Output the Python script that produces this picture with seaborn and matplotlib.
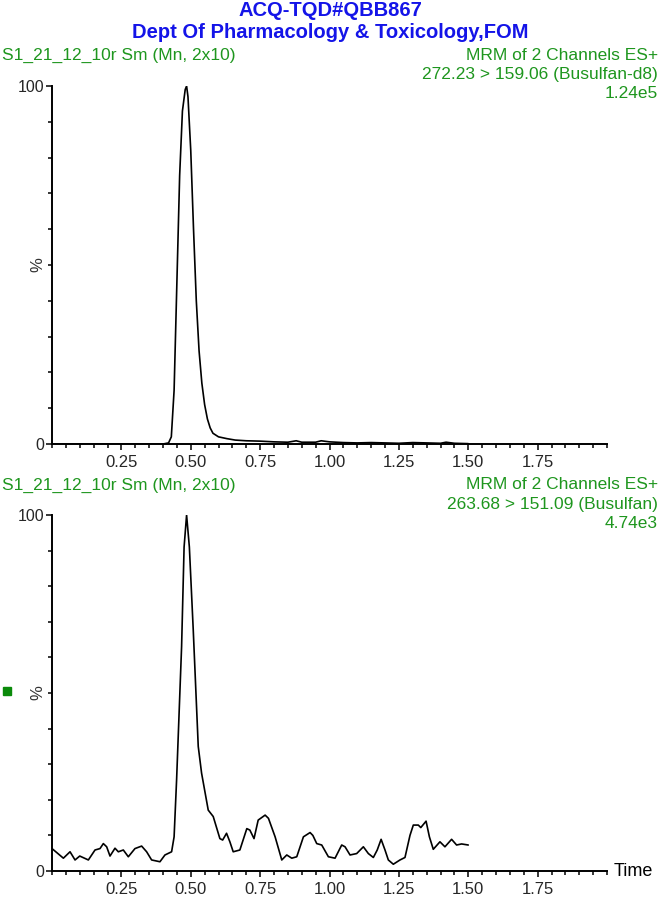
import numpy as np
import pandas as pd
import seaborn as sns
import matplotlib.pyplot as plt
from matplotlib.ticker import MultipleLocator

# Busulfan-d8 channel (272.23 > 159.06), % of 1.24e5
time_d8 = [0.00, 0.40, 0.42, 0.43, 0.44, 0.45, 0.46, 0.47, 0.48, 0.485, 0.49,
           0.50, 0.51, 0.52, 0.53, 0.54, 0.55, 0.56, 0.57, 0.58, 0.60, 0.63,
           0.66, 0.70, 0.75, 0.80, 0.85, 0.88, 0.90, 0.95, 0.97, 1.00, 1.05,
           1.10, 1.15, 1.20, 1.25, 1.30, 1.35, 1.40, 1.42, 1.45, 1.50]
pct_d8 = [0.0, 0.0, 0.3, 2.0, 15.0, 45.0, 75.0, 93.0, 99.0, 100.0, 97.0,
          82.0, 60.0, 40.0, 26.0, 17.0, 11.0, 7.0, 4.5, 3.0, 2.0, 1.5,
          1.1, 0.9, 0.8, 0.6, 0.5, 0.9, 0.5, 0.5, 0.9, 0.6, 0.4,
          0.3, 0.4, 0.3, 0.2, 0.4, 0.3, 0.2, 0.5, 0.2, 0.1]

# Busulfan channel (263.68 > 151.09), % of 4.74e3
time_bu = [0.000, 0.041, 0.065, 0.083, 0.100, 0.131, 0.155, 0.173, 0.185, 0.197,
           0.209, 0.227, 0.239, 0.257, 0.275, 0.299, 0.323, 0.341, 0.359, 0.389,
           0.407, 0.431, 0.440, 0.449, 0.467, 0.476, 0.485, 0.495, 0.509, 0.527,
           0.539, 0.563, 0.581, 0.605, 0.615, 0.629, 0.641, 0.653, 0.677, 0.702,
           0.713, 0.728, 0.743, 0.768, 0.780, 0.804, 0.828, 0.846, 0.864, 0.882,
           0.906, 0.930, 0.940, 0.954, 0.972, 0.996, 1.020, 1.044, 1.056, 1.074,
           1.098, 1.122, 1.140, 1.158, 1.172, 1.186, 1.200, 1.212, 1.230, 1.254,
           1.272, 1.290, 1.302, 1.320, 1.329, 1.348, 1.360, 1.374, 1.398, 1.416,
           1.440, 1.458, 1.476, 1.500]
pct_bu = [6.3, 3.6, 5.4, 3.1, 4.2, 3.1, 5.9, 6.3, 7.7, 6.8,
          4.2, 6.4, 5.4, 5.9, 4.0, 6.3, 7.0, 5.4, 3.1, 2.6,
          4.5, 5.4, 9.6, 25.6, 63.0, 91.0, 100.0, 91.0, 67.7, 35.0,
          27.5, 17.1, 15.3, 9.1, 8.7, 10.6, 8.2, 5.4, 5.9, 11.9,
          11.5, 9.1, 14.3, 15.7, 14.8, 9.6, 3.1, 4.5, 3.6, 4.0,
          9.6, 10.8, 10.0, 7.7, 7.3, 4.0, 3.6, 7.3, 6.8, 4.5,
          4.9, 6.8, 4.9, 3.8, 5.9, 8.9, 5.9, 3.1, 1.9, 3.1,
          3.8, 10.0, 12.9, 12.9, 12.2, 14.0, 9.6, 6.1, 8.2, 6.8,
          8.9, 7.3, 7.6, 7.3]

sample = "S1_21_12_10r Sm (Mn, 2x10)"
channel_lines = [["MRM of 2 Channels ES+", "272.23 > 159.06 (Busulfan-d8)", "1.24e5"],
                 ["MRM of 2 Channels ES+", "263.68 > 151.09 (Busulfan)", "4.74e3"]]
x_labels = ["0.25", "0.50", "0.75", "1.00", "1.25", "1.50", "1.75"]

GREEN = "#1e961e"
BLUE = "#1414e8"

sns.set_style("ticks")
plt.rcParams["font.family"] = ["Liberation Sans", "DejaVu Sans"]

W, H = 661, 898
fig = plt.figure(figsize=(W / 100, H / 100), dpi=100)

def fx(px):
    return px / W

def fy(py):
    return 1 - py / H

# axes placed in pixel coords of the reference
ax_top = fig.add_axes([fx(52), fy(444), fx(607 - 52), (444 - 86) / H])
ax_bot = fig.add_axes([fx(52), fy(871), fx(607 - 52), (871 - 515) / H])

traces = [pd.DataFrame({"t": time_d8, "pct": pct_d8}),
          pd.DataFrame({"t": time_bu, "pct": pct_bu})]

for ax, df in zip([ax_top, ax_bot], traces):
    sns.lineplot(data=df, x="t", y="pct", ax=ax, color="black", lw=1.2, sort=False)
    ax.set_xlim(0, 2.0)
    ax.set_ylim(0, 100)
    sns.despine(ax=ax)
    for s in ["left", "bottom"]:
        ax.spines[s].set_linewidth(1.4)
        ax.spines[s].set_color("black")
    ax.set_xlabel("")
    ax.set_ylabel("%", fontsize=12, color="#333333")
    ax.yaxis.set_label_coords(-0.0126, 0.5)
    ax.set_yticks([0, 100])
    ax.set_yticklabels(["0", "100"], fontsize=11.5)
    ax.yaxis.set_minor_locator(MultipleLocator(10))
    ax.set_xticks([0.25, 0.5, 0.75, 1.0, 1.25, 1.5, 1.75])
    ax.set_xticklabels(x_labels, fontsize=12)
    ax.xaxis.set_minor_locator(MultipleLocator(0.05))
    ax.tick_params(axis="both", which="major", length=4.5, width=1.1, color="black", pad=1)
    ax.tick_params(axis="both", which="minor", length=3.2, width=1.1, color="black")
    ax.tick_params(axis="x", which="major", pad=3.5)
    ax.set_facecolor("white")

# header
fig.text(0.5, fy(10), "ACQ-TQD#QBB867", ha="center", va="center",
         color=BLUE, fontsize=14.5, fontweight="bold")
fig.text(0.5, fy(32), "Dept Of Pharmacology & Toxicology,FOM", ha="center", va="center",
         color=BLUE, fontsize=14.5, fontweight="bold")

for y0, lines in zip([55, 485], channel_lines):
    fig.text(fx(2), fy(y0), sample, ha="left", va="center", color=GREEN, fontsize=12.5)
    for i, line in enumerate(lines):
        fig.text(fx(658), fy(y0 + 19 * i), line, ha="right", va="center",
                 color=GREEN, fontsize=12.5)

fig.text(fx(614), fy(871), "Time", ha="left", va="center", color="black", fontsize=13)
fig.patches.append(plt.Rectangle((fx(3), fy(695)), 8 / W, 8 / H, transform=fig.transFigure,
                                 color="#0a8a0a", figure=fig))

fig.savefig("out.png", dpi=100, facecolor="white")
